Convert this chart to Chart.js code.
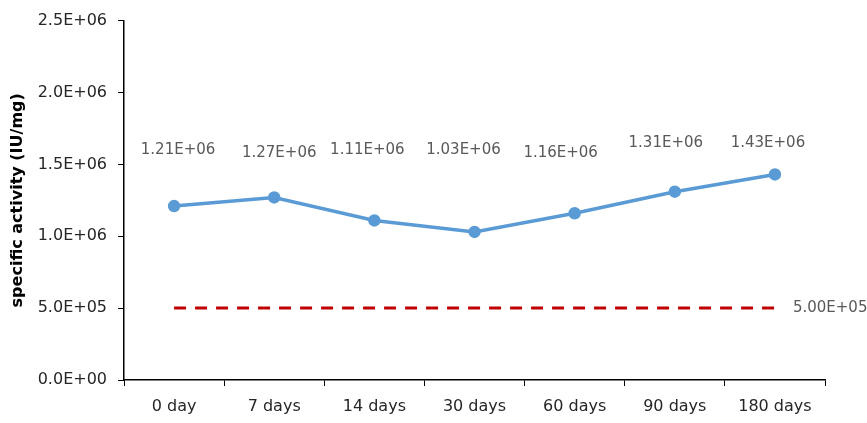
<!DOCTYPE html>
<html>
<head>
<meta charset="utf-8">
<script src="https://cdn.jsdelivr.net/npm/chart.js@4"></script>
<style>
  html, body { margin: 0; padding: 0; background: #fff; }
  #wrap { width: 867px; height: 423px; }
</style>
</head>
<body>
<div id="wrap"><canvas id="chart" width="867" height="423"></canvas></div>
<script>
// ========================
// DATA
// ========================
const categories = ["0 day", "7 days", "14 days", "30 days", "60 days", "90 days", "180 days"];
const activity = [1.21e6, 1.27e6, 1.11e6, 1.03e6, 1.16e6, 1.31e6, 1.43e6];
const activityLabels = ["1.21E+06", "1.27E+06", "1.11E+06", "1.03E+06", "1.16E+06", "1.31E+06", "1.43E+06"];
const limit = [5e5, 5e5, 5e5, 5e5, 5e5, 5e5, 5e5];
const limitLabel = "5.00E+05";
const yTicks = ["0.0E+00", "5.0E+05", "1.0E+06", "1.5E+06", "2.0E+06", "2.5E+06"];

const FONT = "'DejaVu Sans', sans-serif";

// ========================
// DATA LABELS PLUGIN
// ========================
// label height above the points, in data units, roughly as placed in the original
const labelLift = [1.6e6, 1.58e6, 1.6e6, 1.6e6, 1.58e6, 1.65e6, 1.65e6];
const labelShift = [4, 5, -7, -11, -14, -9, -7];

const valueLabels = {
  id: "valueLabels",
  afterDatasetsDraw(chart) {
    const ctx = chart.ctx;
    const y = chart.scales.y;
    const meta = chart.getDatasetMeta(0);
    ctx.save();
    ctx.font = "15px " + FONT;
    ctx.fillStyle = "#595959";
    ctx.textAlign = "center";
    ctx.textBaseline = "middle";
    meta.data.forEach((pt, i) => {
      ctx.fillText(activityLabels[i], pt.x + labelShift[i], y.getPixelForValue(labelLift[i]));
    });
    const lm = chart.getDatasetMeta(1);
    const last = lm.data[lm.data.length - 1];
    ctx.textAlign = "left";
    ctx.fillText(limitLabel, last.x + 18, last.y);
    ctx.restore();
  }
};

// ========================
// CHART
// ========================
new Chart(document.getElementById("chart"), {
  type: "line",
  data: {
    labels: categories,
    datasets: [
      {
        data: activity,
        borderColor: "#5B9BD5",
        backgroundColor: "#5B9BD5",
        borderWidth: 3.5,
        pointRadius: 4.5,
        pointHoverRadius: 4.5,
        tension: 0
      },
      {
        data: limit,
        borderColor: "#C00000",
        borderWidth: 3,
        borderDash: [12, 9],
        pointRadius: 0,
        tension: 0
      }
    ]
  },
  options: {
    responsive: false,
    animation: false,
    layout: { padding: { top: 20, right: 42, left: 8, bottom: 0 } },
    plugins: {
      legend: { display: false },
      tooltip: { enabled: false }
    },
    scales: {
      x: {
        offset: true,
        grid: {
          offset: true,
          drawOnChartArea: false,
          drawTicks: true,
          tickLength: 6,
          color: "#000"
        },
        border: { color: "#000", width: 1.5 },
        ticks: {
          color: "#262626",
          font: { family: FONT, size: 16 },
          padding: 11,
          maxRotation: 0
        },
        afterFit(scale) { scale.height = 43; }
      },
      y: {
        min: 0,
        max: 2.5e6,
        grid: {
          drawOnChartArea: false,
          drawTicks: true,
          tickLength: 6,
          color: "#000"
        },
        border: { color: "#000", width: 1.5 },
        ticks: {
          stepSize: 5e5,
          color: "#262626",
          font: { family: FONT, size: 16 },
          padding: 11,
          callback: (v, i) => yTicks[i]
        },
        title: {
          display: true,
          text: "specific activity (IU/mg)",
          color: "#000",
          font: { family: FONT, size: 16, weight: "bold" },
          padding: { top: 0, bottom: 6 }
        },
        afterFit(scale) { scale.width = 116; }
      }
    }
  },
  plugins: [valueLabels]
});
</script>
</body>
</html>
